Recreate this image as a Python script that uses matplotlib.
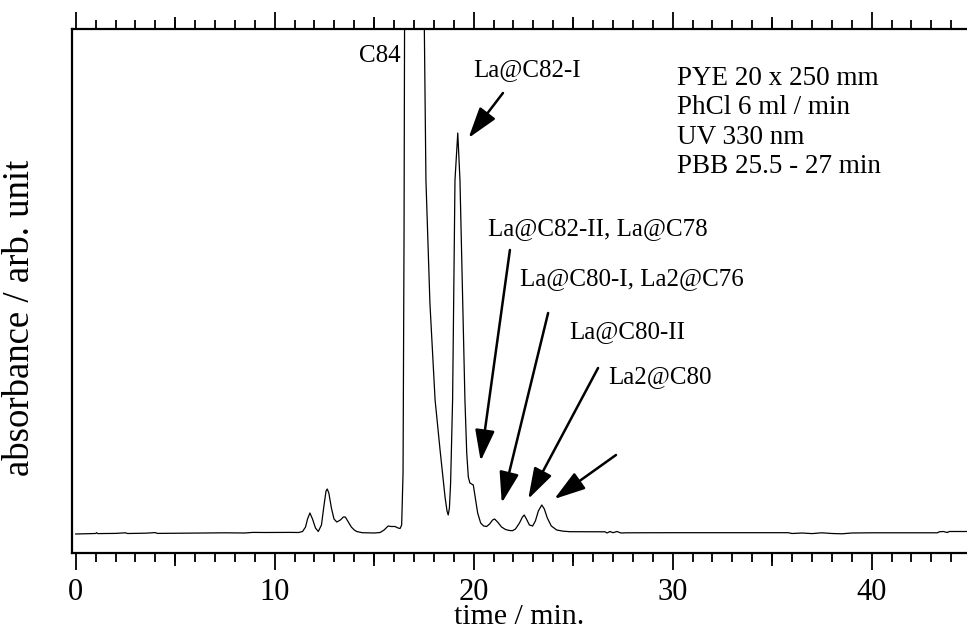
import matplotlib
matplotlib.use("Agg")
import matplotlib.pyplot as plt
from matplotlib.ticker import MultipleLocator, FixedLocator, NullFormatter

plt.rcParams['font.family'] = ['Liberation Serif', 'DejaVu Serif']

# HPLC trace: retention time (min) and absorbance (arb. unit)
time_min = [
    0.0, 1.0, 1.05, 1.1, 2.0, 2.5, 2.6, 3.5, 4.0, 4.1, 5.5, 6.5, 7.5, 8.5, 8.9,
    9.5, 10.8, 11.2, 11.4, 11.55, 11.65, 11.77, 11.9, 12.05, 12.19, 12.35, 12.48,
    12.58, 12.64, 12.72, 12.85, 12.98, 13.12, 13.3, 13.45, 13.55, 13.7, 13.85,
    14.0, 14.12, 14.4, 15.0, 15.3, 15.5, 15.7, 15.85, 16.05, 16.2, 16.3, 16.38,
    16.45, 16.5, 16.55, 16.8, 17.0, 17.2, 17.4, 17.52, 17.6, 17.8, 18.06, 18.31,
    18.56, 18.66, 18.72, 18.78, 18.84, 18.94, 19.06, 19.2, 19.31, 19.45, 19.56,
    19.65, 19.73, 19.81, 19.98, 20.1, 20.2, 20.35, 20.5, 20.65, 20.8, 20.95,
    21.05, 21.2, 21.4, 21.6, 21.8, 21.95, 22.1, 22.3, 22.45, 22.54, 22.65, 22.8,
    22.96, 23.1, 23.25, 23.42, 23.55, 23.7, 23.9, 24.17, 24.5, 24.84, 25.5, 26.0,
    26.6, 26.7, 26.85, 27.0, 27.2, 27.4, 27.7, 30.0, 33.0, 35.8, 36.0, 36.5,
    37.0, 37.5, 38.0, 38.5, 39.0, 40.0, 43.3, 43.4, 43.6, 43.8, 43.9, 44.8,
]
absorbance = [
    -1.0, -0.5, 0.3, -0.6, -0.4, 0.2, -0.5, -0.2, 0.4, -0.4, -0.2, 0.0, 0.2, 0.0,
    0.6, 0.5, 0.6, 0.5, 1.5, 6, 14, 20, 14, 5, 1.5, 8, 28, 42, 44, 40, 25, 14, 11,
    13, 16, 16, 11, 6, 3, 1.5, 0.3, 0.0, 0.5, 3, 7, 6.5, 6.5, 5, 4.5, 8, 60, 300,
    700, 1300, 1500, 1300, 900, 504, 353, 230, 133, 83, 36, 22, 18, 25, 50, 133,
    353, 400, 353, 230, 133, 80, 56, 50, 48, 33, 20, 10, 7, 6.5, 9, 13, 14, 11,
    6, 3.5, 2.5, 2.3, 4, 10, 16, 18, 14, 8, 7, 12, 22, 28, 24, 15, 7, 3, 1.8,
    1.3, 1.3, 1.2, 1.2, 0.0, 1.5, 0.3, 1.5, 0.0, 0.2, 0.3, 0.3, 0.3, -0.5, 0.0,
    -0.6, 0.2, -0.5, -0.8, 0.0, 0.2, 0.2, 1.2, 1.5, 0.5, 1.5, 1.5,
]

# peak labels: text, text position, arrow tail, arrow tip
peak_names = ['La@C82-I', 'La@C82-II, La@C78', 'La@C80-I, La2@C76',
              'La@C80-II', 'La2@C80']
name_pos = [(19.97, 457), (20.73, 298), (22.33, 248), (24.79, 195), (26.75, 150)]
arrow_tail = [(21.47, 440), (21.82, 283), (23.74, 220), (26.25, 165), (27.15, 78)]
arrow_tip = [(19.74, 395), (20.35, 72), (21.41, 30), (22.74, 34), (24.05, 34)]

conditions = ['PYE 20 x 250 mm', 'PhCl 6 ml / min', 'UV 330 nm',
              'PBB 25.5 - 27 min']

fig = plt.figure(figsize=(9.67, 6.38), dpi=100)
ax = fig.add_axes([72 / 967, 85 / 638, 895 / 967, 524 / 638])

ax.plot(time_min, absorbance, color='black', lw=0.9)

ax.set_xlim(-0.186, 44.79)
ax.set_ylim(-20, 504)

for side in ['left', 'top', 'bottom']:
    ax.spines[side].set_linewidth(1.6)
ax.spines['right'].set_visible(False)

ax.set_yticks([])
ax.xaxis.set_major_locator(MultipleLocator(10))
ax.xaxis.set_minor_locator(MultipleLocator(1))
ax.tick_params(axis='x', which='major', direction='out', length=12, width=1.3,
               top=True, labelsize=22, pad=6)
ax.tick_params(axis='x', which='minor', direction='out', length=6.5, width=1.3,
               top=True)

# half-decade ticks, a bit longer than the minor ones
for loc in ['bottom', 'top']:
    sec = ax.secondary_xaxis(loc)
    sec.xaxis.set_major_locator(FixedLocator([5, 15, 25, 35]))
    sec.xaxis.set_major_formatter(NullFormatter())
    sec.tick_params(direction='out', length=9, width=1.3)
    sec.spines[loc].set_visible(False)

ax.set_xlabel('time / min.', fontsize=21.5, labelpad=-2)
fig.text(20 / 967, 1 - 318 / 638, 'absorbance / arb. unit', fontsize=26.5,
         rotation=90, ha='center', va='center')

ax.text(16.35, 471, 'C84', fontsize=18, ha='right', va='baseline')
for name, pos, tail, tip in zip(peak_names, name_pos, arrow_tail, arrow_tip):
    ax.text(pos[0], pos[1], name, fontsize=18, ha='left', va='baseline')
    ax.annotate('', xy=tip, xytext=tail,
                arrowprops=dict(arrowstyle='-|>,head_length=1.9,head_width=0.6',
                                color='black', lw=1.8, shrinkA=0, shrinkB=0))

# run conditions, one line each, 29.3 units apart
for i, line in enumerate(conditions):
    ax.text(30.21, 448 - 29.3 * i, line, fontsize=19.5, ha='left',
            va='baseline')

fig.savefig('out.png', dpi=100)
